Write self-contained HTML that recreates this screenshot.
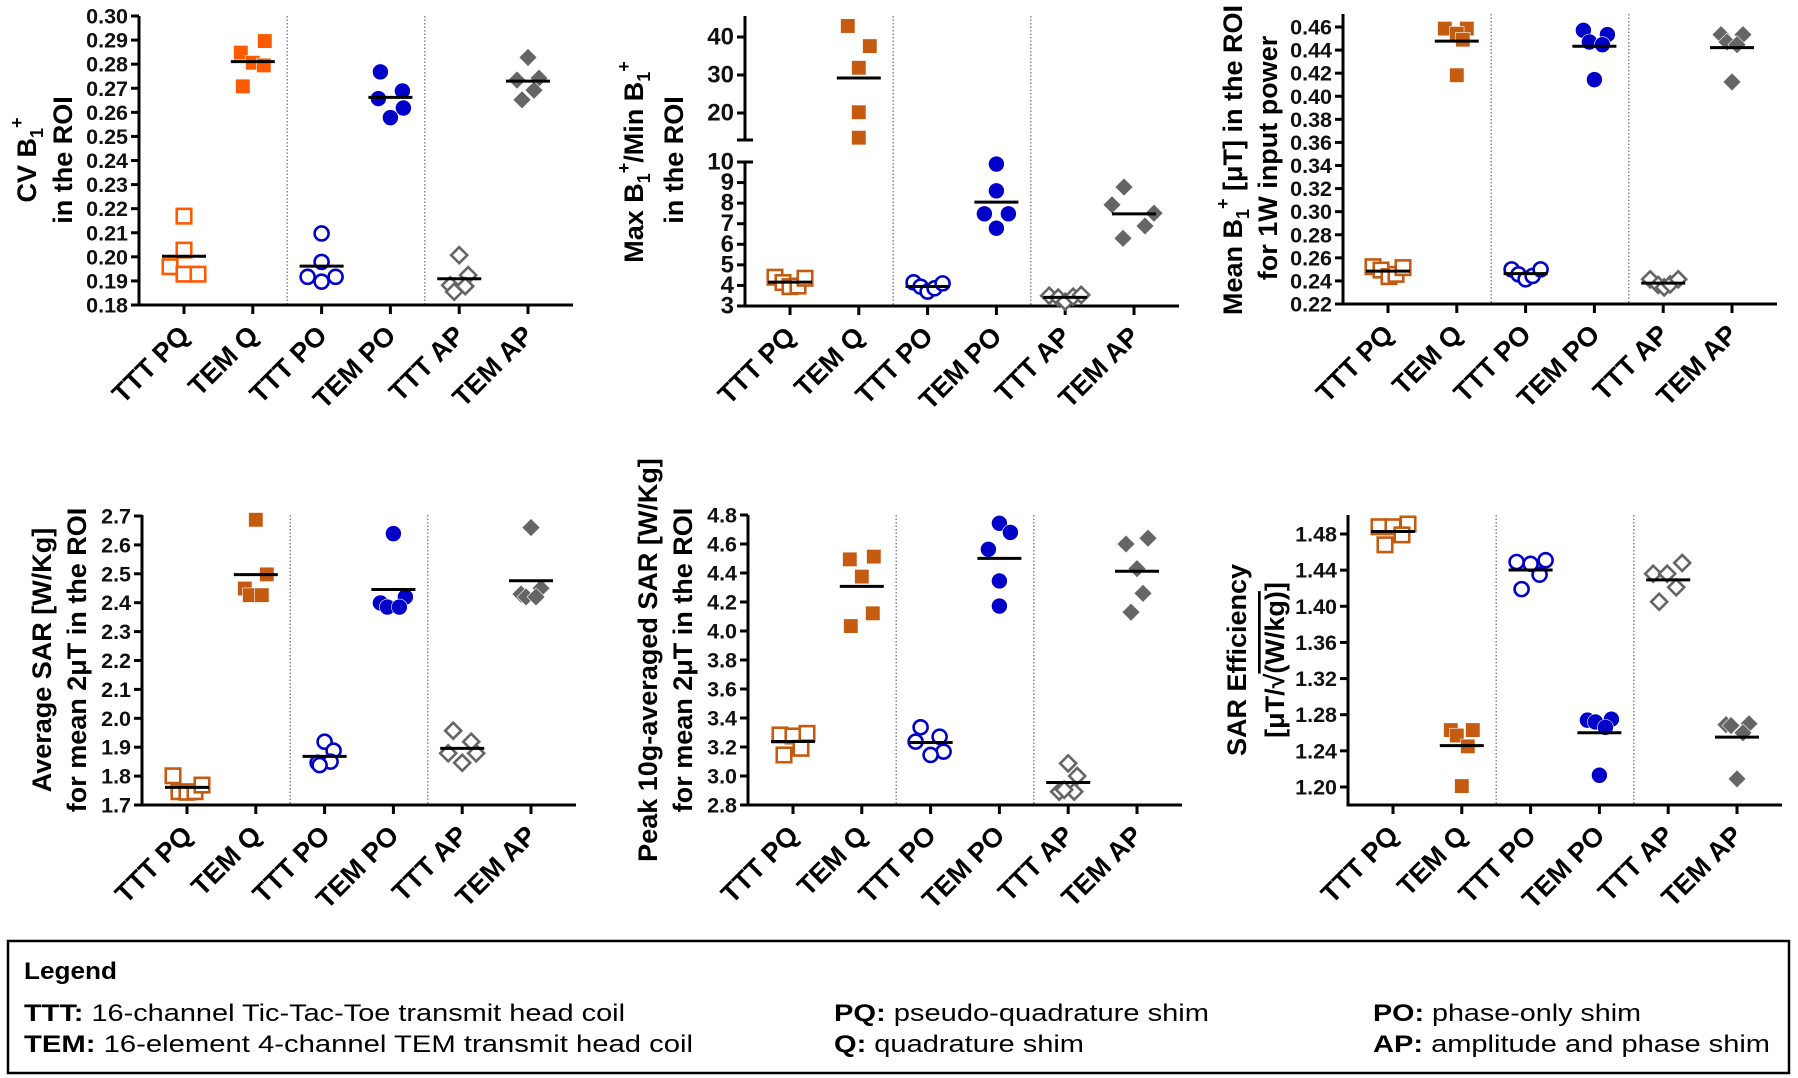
<!DOCTYPE html>
<html><head><meta charset="utf-8">
<style>
html,body{margin:0;padding:0;background:#fff;}
svg{display:block;font-family:"Liberation Sans",Arial,sans-serif;}
.tl{font-weight:bold;font-size:21.5px;fill:#111;}
.xl{font-weight:bold;font-size:27px;fill:#000;}
.yt{font-weight:bold;font-size:27px;fill:#000;}
.lg{font-size:24px;fill:#000;}
</style></head>
<body>
<svg id="fig" width="1798" height="1078" viewBox="0 0 1798 1078">
  <text class="yt" text-anchor="middle" transform="translate(36,160) rotate(-90)">CV B<tspan font-size="18" dy="7">1</tspan><tspan font-size="18" dy="-20">+</tspan></text>
  <text class="yt" text-anchor="middle" transform="translate(72,160) rotate(-90)">in the ROI</text>

  <text class="yt" text-anchor="middle" transform="translate(643,162) rotate(-90)">Max B<tspan font-size="18" dy="7">1</tspan><tspan font-size="18" dy="-20">+</tspan><tspan dy="13">/Min B</tspan><tspan font-size="18" dy="7">1</tspan><tspan font-size="18" dy="-20">+</tspan></text>
  <text class="yt" text-anchor="middle" transform="translate(683,160) rotate(-90)">in the ROI</text>

  <text class="yt" text-anchor="middle" transform="translate(1242,160) rotate(-90)">Mean B<tspan font-size="18" dy="7">1</tspan><tspan font-size="18" dy="-20">+</tspan><tspan dy="13"> [μT] in the ROI</tspan></text>
  <text class="yt" text-anchor="middle" transform="translate(1277,158) rotate(-90)">for 1W input power</text>

  <text class="yt" text-anchor="middle" transform="translate(51,660) rotate(-90)">Average SAR [W/Kg]</text>
  <text class="yt" text-anchor="middle" transform="translate(86,660) rotate(-90)">for mean 2μT in the ROI</text>

  <text class="yt" text-anchor="middle" transform="translate(657,660) rotate(-90)">Peak 10g-averaged SAR [W/Kg]</text>
  <text class="yt" text-anchor="middle" transform="translate(692,660) rotate(-90)">for mean 2μT in the ROI</text>

  <text class="yt" text-anchor="middle" transform="translate(1246,660) rotate(-90)">SAR Efficiency</text>
  <text class="yt" text-anchor="middle" transform="translate(1284,660) rotate(-90)">[μT/√<tspan text-decoration="overline">(W/kg)</tspan>]</text>

  <g>
    <rect x="8" y="941" width="1781" height="132" fill="none" stroke="#000" stroke-width="2.5"/>
    <text class="lg" x="24" y="979" font-weight="bold" textLength="93" lengthAdjust="spacingAndGlyphs">Legend</text>
    <text class="lg" x="24" y="1021" textLength="601" lengthAdjust="spacingAndGlyphs"><tspan font-weight="bold">TTT:</tspan> 16-channel Tic-Tac-Toe transmit head coil</text>
    <text class="lg" x="24" y="1052" textLength="669" lengthAdjust="spacingAndGlyphs"><tspan font-weight="bold">TEM:</tspan> 16-element 4-channel TEM transmit head coil</text>
    <text class="lg" x="834" y="1021" textLength="375" lengthAdjust="spacingAndGlyphs"><tspan font-weight="bold">PQ:</tspan> pseudo-quadrature shim</text>
    <text class="lg" x="834" y="1052" textLength="250" lengthAdjust="spacingAndGlyphs"><tspan font-weight="bold">Q:</tspan> quadrature shim</text>
    <text class="lg" x="1373" y="1021" textLength="268" lengthAdjust="spacingAndGlyphs"><tspan font-weight="bold">PO:</tspan> phase-only shim</text>
    <text class="lg" x="1373" y="1052" textLength="397" lengthAdjust="spacingAndGlyphs"><tspan font-weight="bold">AP:</tspan> amplitude and phase shim</text>
  </g>
</svg>
<script>
const categories = ["TTT PQ","TEM Q","TTT PO","TEM PO","TTT AP","TEM AP"];

const cvB1 = [
  [0.2169,0.2028,0.1959,0.1928,0.1928],
  [0.2848,0.2896,0.2806,0.2795,0.2708],
  [0.2097,0.1979,0.1917,0.1917,0.1897],
  [0.2768,0.2689,0.2657,0.2618,0.2578],
  [0.2007,0.1924,0.1882,0.1878,0.1855],
  [0.2828,0.2734,0.2742,0.2692,0.2652]
];
const maxMinRatio = [
  [4.40,4.14,3.94,3.97,4.35],
  [42.9,37.6,31.9,20.2,13.5],
  [4.15,3.94,3.70,3.86,4.10],
  [9.90,8.60,7.48,7.48,6.78],
  [3.50,3.41,3.21,3.45,3.54],
  [8.78,7.92,7.51,6.89,6.29]
];
const meanB1 = [
  [0.2523,0.2494,0.2437,0.2457,0.2515],
  [0.4586,0.4586,0.4542,0.4490,0.4182],
  [0.2500,0.2457,0.2414,0.2443,0.2500],
  [0.4571,0.4534,0.4470,0.4447,0.4144],
  [0.2414,0.2365,0.2344,0.2370,0.2414],
  [0.4534,0.4534,0.4470,0.4447,0.4124]
];
const avgSAR = [
  [1.801,1.746,1.744,1.746,1.769],
  [2.687,2.498,2.449,2.426,2.426],
  [1.919,1.888,1.846,1.850,1.838],
  [2.639,2.420,2.399,2.385,2.385],
  [1.957,1.919,1.879,1.879,1.846],
  [2.660,2.450,2.430,2.420,2.420]
];
const peakSAR = [
  [3.283,3.276,3.294,3.145,3.191],
  [4.494,4.513,4.375,4.122,4.034],
  [3.336,3.271,3.237,3.168,3.145],
  [4.743,4.680,4.563,4.345,4.172],
  [3.087,3.000,2.892,2.892,2.905],
  [4.640,4.600,4.430,4.260,4.130]
];
const sarEff = [
  [1.488,1.488,1.491,1.479,1.468],
  [1.263,1.263,1.257,1.245,1.201],
  [1.449,1.447,1.451,1.435,1.419],
  [1.274,1.272,1.275,1.266,1.213],
  [1.436,1.436,1.448,1.421,1.405],
  [1.269,1.270,1.268,1.260,1.209]
];
const ticksCV = [0.18,0.19,0.20,0.21,0.22,0.23,0.24,0.25,0.26,0.27,0.28,0.29,0.30];
const ticksRatioLow = [3,4,5,6,7,8,9,10];
const ticksRatioHigh = [20,30,40];
const ticksMeanB1 = [0.22,0.24,0.26,0.28,0.30,0.32,0.34,0.36,0.38,0.40,0.42,0.44,0.46];
const ticksAvgSAR = [1.7,1.8,1.9,2.0,2.1,2.2,2.3,2.4,2.5,2.6,2.7];
const ticksPeakSAR = [2.8,3.0,3.2,3.4,3.6,3.8,4.0,4.2,4.4,4.6,4.8];
const ticksSarEff = [1.20,1.24,1.28,1.32,1.36,1.40,1.44,1.48];

const jitterP1 = [[0,0,-14,0,14],[-12,12,0,11,-10],[0,0,-14,14,0],[-10,12,-12,13,0],[0,9,-9,6,-5],[0,-11,11,6,-6]];
const jitterP2 = [[-15,-7,0,8,15],[-11,11,0,0,0],[-14,-7,0,7,15],[0,0,-12,12,0],[-16,-7,0,8,16],[-10,-22,20,11,-11]];
const jitterP3 = [[-15,-7,1,8,15],[-12,10,0,6,0],[-14,-7,0,7,15],[-11,13,-5,8,0],[-13,-5,1,7,15],[-11,11,-5,5,0]];
const jitterP4 = [[-14,-8,0,8,15],[0,11,-11,-6,6],[0,9,-7,6,-5],[0,12,-13,-6,6],[-9,9,-14,14,0],[0,10,-10,-5,5]];
const jitterP5 = [[-13,0,14,-9,8],[-12,12,0,11,-11],[-10,9,-15,13,0],[0,11,-11,0,0],[0,9,-9,6,-4],[11,-11,0,6,-6]];
const jitterP6 = [[-14,0,15,9,-8],[-11,11,-5,6,0],[-14,0,15,9,-9],[-12,-4,12,6,0],[-15,-1,14,8,-9],[-11,12,-6,6,0]];

const NS = "http://www.w3.org/2000/svg";
const svg = document.getElementById("fig");
function mk(tag, attrs, parent){
  const e = document.createElementNS(NS, tag);
  for (const k in attrs) e.setAttribute(k, attrs[k]);
  (parent||svg).appendChild(e);
  return e;
}
const STEP = 68.8;

function drawPanel(p){
  const g = mk("g", {});
  
  
  const xOf = i => p.ax + 45 + i*STEP;
  const axisEnd = xOf(5) + 45;
  [1.5, 3.5].forEach(s => {
    const sx = (xOf(Math.floor(s)) + xOf(Math.ceil(s)))/2;
    const l = mk("line", {x1:sx, x2:sx, y1:p.top, y2:p.bottom, stroke:"#777", "stroke-width":1.3, "stroke-dasharray":"1.5,2"}, g);
    
    
  });
  if (p.broken){
    const yu = mk("line", {x1:p.ax, x2:p.ax, y1:p.top, y2:p.brkTop, stroke:"#000", "stroke-width":3}, g);
    
    
    mk("line", {x1:p.ax-8, x2:p.ax+8, y1:p.brkTop, y2:p.brkTop, stroke:"#000", "stroke-width":3}, g);
    const yl = mk("line", {x1:p.ax, x2:p.ax, y1:p.brkBot, y2:p.bottom+1.5, stroke:"#000", "stroke-width":3}, g);
    
    
    mk("line", {x1:p.ax-8, x2:p.ax+8, y1:p.brkBot, y2:p.brkBot, stroke:"#000", "stroke-width":3}, g);
  } else {
    const ya = mk("line", {x1:p.ax, x2:p.ax, y1:p.top, y2:p.bottom+1.5, stroke:"#000", "stroke-width":3}, g);
    
    
  }
  const xa = mk("line", {x1:p.ax-1.5, x2:axisEnd, y1:p.bottom, y2:p.bottom, stroke:"#000", "stroke-width":3}, g);
  
  
  p.ticks.forEach(v => {
    const y = p.y(v);
    mk("line", {x1:p.ax-8, x2:p.ax, y1:y, y2:y, stroke:"#000", "stroke-width":3}, g);
    const t = mk("text", {x:p.ax-11, y:y+7.5, "text-anchor":"end", class:"tl", style:p.tickFont?("font-size:"+p.tickFont+"px"):""}, g);
    t.textContent = v.toFixed(p.dec);
    
    
  });
  categories.forEach((c, i) => {
    const x = xOf(i);
    mk("line", {x1:x, x2:x, y1:p.bottom, y2:p.bottom+9, stroke:"#000", "stroke-width":3}, g);
    const t = mk("text", {x:x+7, y:p.bottom+32, "text-anchor":"end", class:"xl", transform:"rotate(-45 "+(x+7)+" "+(p.bottom+32)+")"}, g);
    t.textContent = c;
    
    
  });
  p.data.forEach((vals, gi) => {
    const cx0 = xOf(gi);
    const col = gi < 2 ? p.orange : (gi < 4 ? "#0000C8" : "#656565");
    const filled = gi % 2 === 1;
    const shape = ["sq","sq","ci","ci","di","di"][gi];
    vals.forEach((v, k) => {
      const cx = cx0 + p.jitter[gi][k];
      const cy = p.y(v);
      let m;
      const st = filled ? {fill:col, stroke:"#fff", "stroke-width":0.6} : {fill:"#fff", stroke:col, "stroke-width":2.6};
      if (shape === "sq") m = mk("rect", Object.assign({x:cx-7.25, y:cy-7.25, width:14.5, height:14.5}, st), g);
      else if (shape === "ci") m = mk("circle", Object.assign({cx:cx, cy:cy, r:filled?8:7}, st), g);
      else { const r = filled?9:8; m = mk("polygon", Object.assign({points:`${cx},${cy-r} ${cx+r},${cy} ${cx},${cy+r} ${cx-r},${cy}`}, st), g); }
      
      
    });
    const mean = vals.reduce((a,b)=>a+b,0)/vals.length;
    const ym = p.y(mean);
    const ml = mk("line", {x1:cx0-22, x2:cx0+22, y1:ym, y2:ym, stroke:"#000", "stroke-width":3}, g);
    
    
  });
}
function lin(v0,p0,v1,p1){ return v => p0 + (v - v0)*(p1 - p0)/(v1 - v0); }

drawPanel({name:"panel-cv-b1", ax:139, top:16, bottom:305, y:lin(0.18,305,0.30,16), ticks:ticksCV, dec:2, data:cvB1, jitter:jitterP1, orange:"#FF5A00"});
const lowY = lin(3,306,10,162), highY = lin(20,113,40,37);
drawPanel({name:"panel-max-min-ratio", ax:745, top:16, bottom:306, broken:true, brkTop:140, brkBot:162,
  y: v => v > 11 ? highY(v) : lowY(v), ticks:ticksRatioLow.concat(ticksRatioHigh), dec:0, tickFont:24, data:maxMinRatio, jitter:jitterP2, orange:"#C55A11"});
drawPanel({name:"panel-mean-b1", ax:1343, top:14, bottom:304, y:lin(0.22,304,0.46,27), ticks:ticksMeanB1, dec:2, data:meanB1, jitter:jitterP3, orange:"#C55A11"});
drawPanel({name:"panel-average-sar", ax:142, top:515, bottom:805, y:lin(1.7,805,2.7,516), ticks:ticksAvgSAR, dec:1, data:avgSAR, jitter:jitterP4, orange:"#C55A11"});
drawPanel({name:"panel-peak-sar", ax:748, top:515, bottom:805, y:lin(2.8,805,4.8,515), ticks:ticksPeakSAR, dec:1, data:peakSAR, jitter:jitterP5, orange:"#C55A11"});
drawPanel({name:"panel-sar-efficiency", ax:1348, top:515, bottom:805, y:lin(1.20,787,1.48,534), ticks:ticksSarEff, dec:2, data:sarEff, jitter:jitterP6, orange:"#C55A11"});
</script>
</body></html>
